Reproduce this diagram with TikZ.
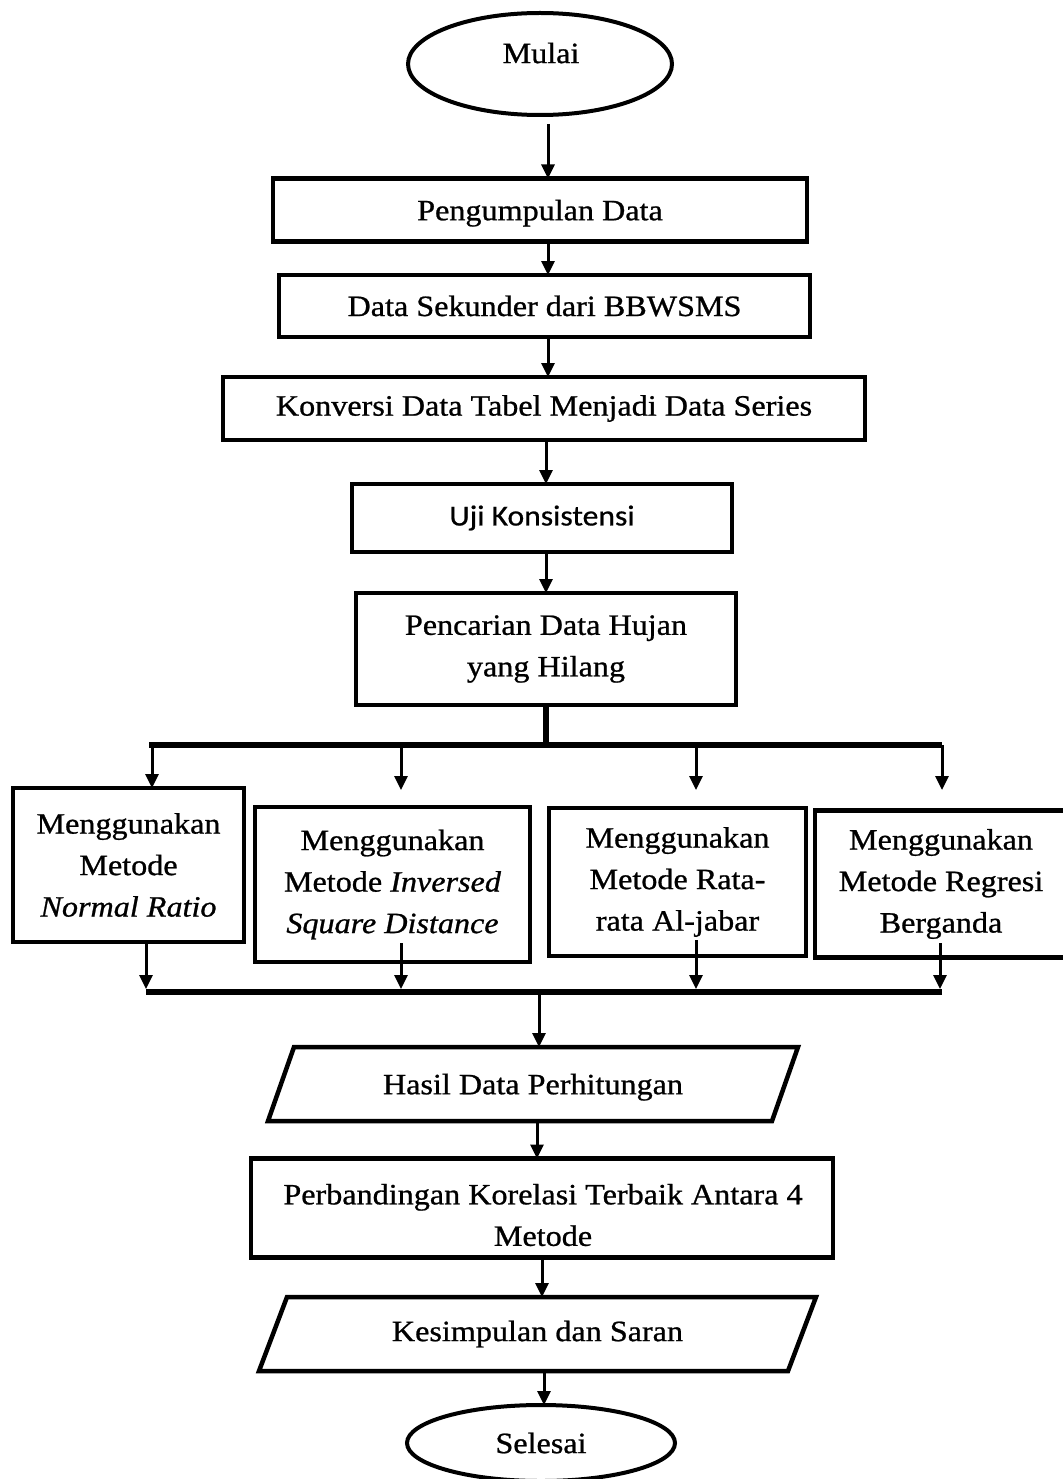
\documentclass[tikz,border=0pt]{standalone}
\usepackage{fontspec}
\setmainfont{Liberation Serif}[FakeBold=0.8]
\newfontfamily\calibfont{Carlito}[FakeBold=0.6]
\usepackage{graphicx}
\usetikzlibrary{shapes.geometric,arrows.meta}
\newcommand{\sx}[1]{\scalebox{1.09}[1]{#1}}
\begin{document}
\begin{tikzpicture}[x=1pt,y=-1pt,
  every node/.style={font=\fontsize{29.5}{41.5}\selectfont, inner sep=0pt, outer sep=0pt},
  boxnode/.style={draw, line width=4.5pt, rectangle, align=center},
  ovalnode/.style={draw, line width=4pt, ellipse},
  plain/.style={align=center},
  paranode/.style={rectangle, align=center},
  paraline/.style={line width=4.5pt, line join=miter},
  arr/.style={line width=3pt, -{Triangle[width=13pt,length=14pt]}},
  busline/.style={line width=6pt},
]
\useasboundingbox (0,0) rectangle (1062,1479);

% start
\node[ovalnode, minimum width=264, minimum height=102] (mulai) at (540,64) {};
\node[plain] (mulaitxt) at (541,53) {\sx{Mulai}};

\node[boxnode, minimum width=534, minimum height=63, text depth=0pt] (pd) at (540,210) {\sx{Pengumpulan Data}};
\node[boxnode, minimum width=531, minimum height=62] (ds) at (544.5,306) {\sx{Data Sekunder dari BBWSMS}};
\node[boxnode, minimum width=642, minimum height=63] (konv) at (544,408.5) {\sx{Konversi Data Tabel Menjadi Data Series}};
\node[boxnode, minimum width=380, minimum height=68, font=\calibfont\fontsize{29}{35}\selectfont] (uji) at (542,518) {\sx{Uji Konsistensi}};
\node[boxnode, minimum width=380, minimum height=112] (penc) at (546,649) {\sx{Pencarian Data Hujan}\\\sx{yang Hilang}};

% methods
\node[boxnode, minimum width=231, minimum height=154] (m1) at (128.5,865) {\sx{Menggunakan}\\\sx{Metode}\\\sx{\textit{Normal Ratio}}};
\node[boxnode, minimum width=275, minimum height=155] (m2) at (392.5,884.5) {\sx{Menggunakan}\\\sx{Metode \textit{Inversed}}\\\sx{\textit{Square Distance}}};
\node[boxnode, minimum width=257, minimum height=148] (m3) at (677.5,882) {\sx{Menggunakan}\\\sx{Metode Rata-}\\\sx{rata Al-jabar}};
\node[boxnode, minimum width=252, minimum height=147] (m4) at (941,884) {\sx{Menggunakan}\\\sx{Metode Regresi}\\\sx{Berganda}};

% lower part
\node[paranode, minimum width=504, minimum height=74, text depth=0pt] (hasil) at (533,1084) {\sx{Hasil Data Perhitungan}};
\draw[paraline] ([xshift=-13pt]hasil.south west) -- ([xshift=-13pt]hasil.south east) -- ([xshift=13pt]hasil.north east) -- ([xshift=13pt]hasil.north west) -- cycle;
\node[boxnode, minimum width=582, minimum height=99] (perb) at (542,1208) {};
\node[plain] (perbtxt) at (543,1215) {\sx{Perbandingan Korelasi Terbaik Antara 4}\\\sx{Metode}};
\node[paranode, minimum width=529, minimum height=74] (kes) at (537.5,1334) {\sx{Kesimpulan dan Saran}};
\draw[paraline] ([xshift=-14pt]kes.south west) -- ([xshift=-14pt]kes.south east) -- ([xshift=14pt]kes.north east) -- ([xshift=14pt]kes.north west) -- cycle;
\node[ovalnode, minimum width=268, minimum height=76] (sel) at (541,1443) {};
\node[plain] (seltxt) at (541,1443) {\sx{Selesai}};

% connectors top
\coordinate (xt) at (548,0);
\coordinate (xu) at (546,0);
\draw[arr] ([yshift=-9pt]mulai.south -| xt) -- (pd.north -| xt);
\draw[arr] (pd.south -| xt) -- (ds.north -| xt);
\draw[arr] (ds.south -| xt) -- (konv.north -| xt);
\draw[arr] (konv.south -| xu) -- (uji.north -| xu);
\draw[arr] (uji.south -| penc.north) -- (penc.north);

% upper bus
\coordinate (jt) at (546,745);
\coordinate (bl) at (149,745);
\coordinate (br) at (942,745);
\draw[busline] (penc.south) -- (jt);
\draw[busline] (bl) -- (br);
\coordinate (t1) at (152,745);
\coordinate (t2) at (401,745);
\coordinate (t3) at (696,745);
\coordinate (t4) at (942,745);
\coordinate (e2) at (401,790);
\coordinate (e3) at (696,790);
\coordinate (e4) at (942,790);
\draw[arr] (t1) -- (t1 |- m1.north);
\draw[arr] (t2) -- (e2);
\draw[arr] (t3) -- (e3);
\draw[arr] (t4) -- (e4);

% lower bus
\coordinate (bl2) at (146,992);
\coordinate (br2) at (942,992);
\draw[busline] (bl2) -- (br2);
\coordinate (f1) at (146,989);
\coordinate (f2) at (401,989);
\coordinate (f3) at (696,989);
\coordinate (f4) at (940,989);
\coordinate (s2) at (401,943);
\coordinate (s3) at (696,940);
\coordinate (s4) at (940,943);
\draw[arr] (m1.south -| f1) -- (f1);
\draw[arr] (s2) -- (f2);
\draw[arr] (s3) -- (f3);
\draw[arr] (s4) -- (f4);

\coordinate (jb) at (539,992);
\draw[arr] (jb) -- (jb |- hasil.north);
\coordinate (xa) at (537,0);
\draw[arr] (hasil.south -| xa) -- (perb.north -| xa);
\coordinate (xb) at (542,0);
\draw[arr] (perb.south -| xb) -- (kes.north -| xb);
\coordinate (xc) at (544,0);
\draw[arr] (kes.south -| xc) -- (sel.north -| xc);
\end{tikzpicture}
\end{document}
